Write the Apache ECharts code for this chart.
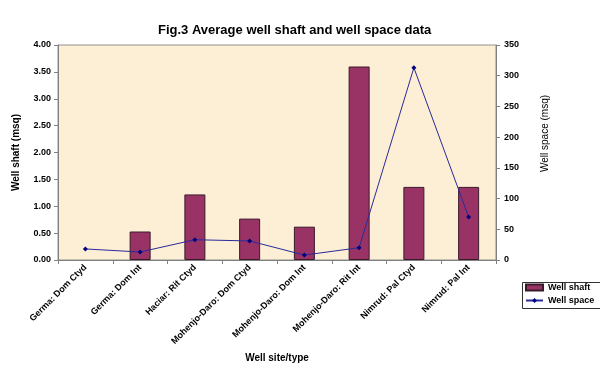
<!DOCTYPE html>
<html>
<head>
<meta charset="utf-8">
<script src="https://cdn.jsdelivr.net/npm/echarts@6/dist/echarts.min.js"></script>
<style>
html,body{margin:0;padding:0;background:#fff;}
#c{width:600px;height:368px;}
</style>
</head>
<body>
<div id="c"></div>
<script>
var categories = ["Germa: Dom Ctyd","Germa: Dom Int","Haciar: Rit Ctyd","Mohenjo-Daro: Dom Ctyd","Mohenjo-Daro: Dom Int","Mohenjo-Daro: Rit Int","Nimrud: Pal Ctyd","Nimrud: Pal Int"];
var wellShaft = [null, 0.53, 1.22, 0.77, 0.62, 3.60, 1.36, 1.36];
var wellSpace = [18, 13, 33, 31, 8, 20, 313, 70];
var leftTicks = [0, 4, 0.5];
var rightTicks = [0, 350, 50];

var font = "Arial, 'Liberation Sans', sans-serif";
var chart = echarts.init(document.getElementById('c'), null, {renderer:'canvas'});
chart.setOption({
  animation:false,
  backgroundColor:'#ffffff',
  title:{
    text:'Fig.3 Average well shaft and well space data',
    left:153, top:19,
    textStyle:{fontFamily:font, fontSize:13, fontWeight:'bold', color:'#000'}
  },
  grid:{left:58, right:104, top:45, bottom:108, show:true, backgroundColor:'#fcefd6', borderColor:'#909090', borderWidth:1},
  legend:{
    orient:'vertical', left:520, top:277, itemGap:2, itemWidth:17, itemHeight:6,
    padding:[5,5,5,5],
    textStyle:{fontFamily:font, fontSize:9, fontWeight:'bold', color:'#000', lineHeight:11},
    data:[{name:'Well shaft', icon:'rect'}, {name:'Well space'}]
  },
  graphic:[{type:'rect', shape:{x:522.5, y:282.5, width:100, height:26}, style:{fill:null, stroke:'#333', lineWidth:1}, z:100}],
  xAxis:{
    type:'category', data:categories, boundaryGap:true,
    name:'Well site/type', nameLocation:'middle', nameGap:90,
    nameTextStyle:{fontFamily:font, fontSize:10, fontWeight:'bold', color:'#000'},
    axisLine:{lineStyle:{color:'#808080'}},
    axisTick:{show:true, length:4, lineStyle:{color:'#808080'}},
    axisLabel:{rotate:45, interval:0, margin:6, fontFamily:font, fontSize:9, fontWeight:'bold', color:'#000'}
  },
  yAxis:[{
    type:'value', min:leftTicks[0], max:leftTicks[1], interval:leftTicks[2],
    name:'Well shaft (msq)', nameLocation:'middle', nameGap:37,
    nameTextStyle:{fontFamily:font, fontSize:10, fontWeight:'bold', color:'#000'},
    axisLine:{show:true, lineStyle:{color:'#808080'}},
    axisTick:{show:true, length:4, lineStyle:{color:'#808080'}},
    splitLine:{show:false},
    axisLabel:{margin:7, fontFamily:font, fontSize:9, fontWeight:'bold', color:'#000', formatter:function(v){return v.toFixed(2);}}
  },{
    type:'value', min:rightTicks[0], max:rightTicks[1], interval:rightTicks[2], position:'right',
    name:'Well space (msq)', nameLocation:'middle', nameGap:44,
    nameTextStyle:{fontFamily:font, fontSize:10, color:'#000', padding:[0,0,0,38]},
    axisLine:{show:true, lineStyle:{color:'#808080'}},
    axisTick:{show:true, length:4, lineStyle:{color:'#808080'}},
    splitLine:{show:false},
    axisLabel:{margin:8, fontFamily:font, fontSize:9, fontWeight:'bold', color:'#000'}
  }],
  series:[{
    name:'Well shaft', type:'bar', yAxisIndex:0, data:wellShaft, barWidth:21,
    itemStyle:{color:'#993366', borderColor:'#3a1a2a', borderWidth:1}
  },{
    name:'Well space', type:'line', yAxisIndex:1, data:wellSpace,
    symbol:'diamond', symbolSize:5,
    lineStyle:{color:'#2a2a99', width:1},
    itemStyle:{color:'#000080'}
  }]
});
</script>
</body>
</html>
